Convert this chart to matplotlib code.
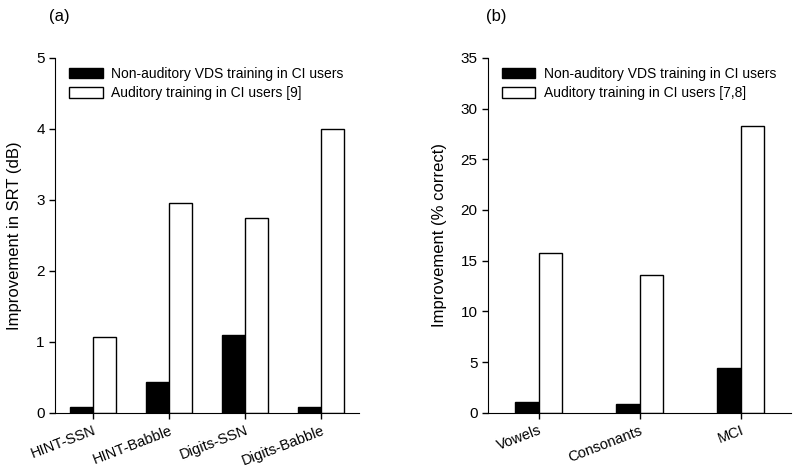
import numpy as np
import matplotlib.pyplot as plt

plt.rcParams['font.family'] = ['Liberation Sans', 'DejaVu Sans']
plt.rcParams['font.size'] = 11

# panel (a)
cats_a = ["HINT-SSN", "HINT-Babble", "Digits-SSN", "Digits-Babble"]
vds_a = [0.08, 0.44, 1.10, 0.08]
aud_a = [1.07, 2.95, 2.75, 4.00]

# panel (b)
cats_b = ["Vowels", "Consonants", "MCI"]
vds_b = [1.1, 0.85, 4.4]
aud_b = [15.8, 13.6, 28.3]

fig = plt.figure(figsize=(8, 4.74), dpi=100)
ax1 = fig.add_axes([0.069, 0.129, 0.38, 0.749])
ax2 = fig.add_axes([0.61, 0.129, 0.379, 0.749])


def draw_panel(ax, cats, vds, aud, width, ref_label, ylim, yticks, ylabel):
    x = np.arange(len(cats))
    ax.bar(x - width / 2, vds, width, color="black", edgecolor="black", lw=1,
           label="Non-auditory VDS training in CI users")
    ax.bar(x + width / 2, aud, width, color="white", edgecolor="black", lw=1,
           label=ref_label)
    ax.set_xlim(-0.5, len(cats) - 0.5)
    ax.set_ylim(*ylim)
    ax.set_yticks(yticks)
    ax.set_xticks(x)
    ax.set_xticklabels(cats, rotation=21, ha="right", rotation_mode="anchor",
                       fontsize=10.5)
    ax.set_ylabel(ylabel, fontsize=12, labelpad=10)
    for s in ("top", "right"):
        ax.spines[s].set_visible(False)
    ax.tick_params(direction="out", length=4, width=1)
    ax.legend(loc="upper left", bbox_to_anchor=(0.028, 0.99), borderaxespad=0,
              frameon=False, handlelength=2.4, handleheight=0.8,
              handletextpad=0.6, labelspacing=0.4, fontsize=10)


draw_panel(ax1, cats_a, vds_a, aud_a, 0.3, "Auditory training in CI users [9]",
           (0, 5), range(0, 6), "Improvement in SRT (dB)")
draw_panel(ax2, cats_b, vds_b, aud_b, 0.23, "Auditory training in CI users [7,8]",
           (0, 35), range(0, 36, 5), "Improvement (% correct)")

fig.text(0.061, 0.955, "(a)", fontsize=12)
fig.text(0.608, 0.955, "(b)", fontsize=12)

fig.savefig("out.png", dpi=100)
